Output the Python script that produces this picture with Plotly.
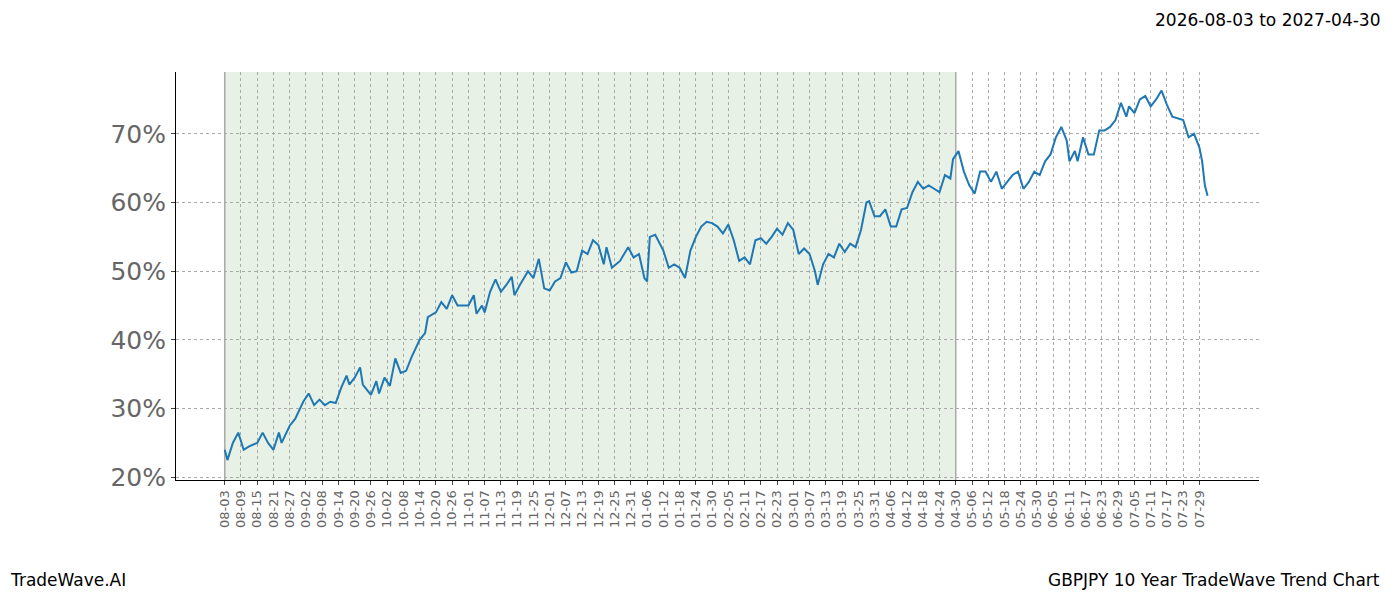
import pandas as pd
import plotly.graph_objects as go

# sampled points (month-day, value %), year rolls from 2026 to 2027 at 01-01
md = ["08-03","08-04","08-06","08-08","08-10","08-12","08-15","08-17","08-19","08-21","08-23","08-24",
      "08-27","08-29","09-01","09-03","09-05","09-07","09-09","09-11","09-13","09-15","09-17","09-18",
      "09-20","09-22","09-23","09-26","09-28","09-29","10-01","10-03","10-05","10-07","10-09","10-11",
      "10-14","10-16","10-17","10-20","10-22","10-24","10-26","10-28","11-01","11-03","11-04","11-06",
      "11-07","11-09","11-11","11-13","11-15","11-17","11-18","11-20","11-23","11-25","11-27","11-29",
      "12-01","12-03","12-05","12-07","12-09","12-11","12-13","12-15","12-17","12-19","12-21","12-22",
      "12-24","12-27","12-30","01-01","01-03","01-05","01-06","01-07","01-09","01-12","01-14","01-16",
      "01-18","01-20","01-22","01-24","01-26","01-28","01-30","02-01","02-03","02-05","02-07","02-09",
      "02-11","02-13","02-15","02-17","02-19","02-21","02-23","02-25","02-27","03-01","03-03","03-05",
      "03-07","03-09","03-10","03-12","03-14","03-16","03-18","03-20","03-22","03-24","03-26","03-28",
      "03-29","03-31","04-02","04-04","04-06","04-08","04-10","04-12","04-14","04-16","04-18","04-20",
      "04-22","04-24","04-26","04-28","04-29","05-01","05-03","05-05","05-07","05-09","05-11","05-13",
      "05-15","05-17","05-19","05-21","05-23","05-25","05-27","05-29","05-31","06-02","06-04","06-06",
      "06-08","06-10","06-11","06-13","06-14","06-16","06-18","06-20","06-22","06-24","06-26","06-28",
      "06-30","07-02","07-03","07-05","07-07","07-09","07-11","07-13","07-15","07-17","07-19","07-21",
      "07-23","07-25","07-27","07-29","07-30","07-31","08-01"]
values = [24,22.5,25,26.5,24,24.5,25,26.5,25,24,26.5,25,
          27.5,28.5,31,32.2,30.5,31.3,30.5,31,30.8,33,34.8,33.5,
          34.5,36,33.5,32,34,32.2,34.5,33.3,37.3,35.2,35.5,37.5,
          40,41,43.3,44,45.5,44.5,46.5,45,45,46.5,43.8,45,
          44,47,48.8,47,48,49.2,46.5,48,50,49,51.8,47.5,
          47.2,48.5,49,51.3,49.8,50,53,52.5,54.5,53.8,51,53.5,
          50.5,51.5,53.5,52,52.5,49,48.5,55,55.3,53,50.5,51,
          50.5,49,53,55,56.5,57.2,57,56.5,55.5,56.8,54.5,51.5,
          52,51,54.5,54.8,54,55,56.2,55.3,57,56,52.5,53.3,
          52.5,50,48,51,52.5,52,54,52.8,54,53.5,56,60,
          60.2,58,58,59,56.5,56.5,59,59.2,61.5,63,62,62.5,
          62,61.5,64,63.5,66.3,67.5,64.5,62.5,61.3,64.5,64.5,63,
          64.5,62,63,64,64.5,62,63,64.5,64,66,67,69.5,
          71,69,66,67.5,66,69.5,67,67,70.5,70.5,71,72,
          74.5,72.5,74,73,75,75.5,74,75,76.3,74.2,72.5,72.2,
          72,69.5,70,68,66,62.5,61]

dates = []
year = 2026
prev = 0
for s in md:
    m = int(s[:2])
    if m < prev:
        year += 1
    prev = m
    dates.append(pd.Timestamp(f"{year}-{s}"))

start = pd.Timestamp("2026-08-03")
shade_end = pd.Timestamp("2027-04-30")
ticks = pd.date_range(start, "2027-07-29", freq="6D")
ytick = [20, 30, 40, 50, 60, 70]

fig = go.Figure()
fig.add_vrect(x0=start, x1=shade_end, fillcolor="rgba(120,180,110,0.18)",
              line_width=0, layer="below")
for d in [start, shade_end]:
    fig.add_vline(x=d, line=dict(color="rgba(150,150,150,0.8)", width=1.5), layer="below")
fig.add_trace(go.Scatter(x=dates, y=values, mode="lines",
                         line=dict(color="#1f77b4", width=2), showlegend=False))

fig.update_layout(
    plot_bgcolor="white", paper_bgcolor="white",
    margin=dict(l=168, r=133, t=64, b=112),
    font=dict(family="DejaVu Sans"),
    annotations=[
        dict(text="2026-08-03 to 2027-04-30", xref="paper", yref="paper", x=1.114, y=1.158,
             xanchor="right", yanchor="top", showarrow=False, font=dict(size=17, color="black")),
        dict(text="TradeWave.AI", xref="paper", yref="paper", x=-0.155, y=-0.215,
             xanchor="left", yanchor="top", showarrow=False, font=dict(size=17, color="black")),
        dict(text="GBPJPY 10 Year TradeWave Trend Chart", xref="paper", yref="paper", x=1.114, y=-0.215,
             xanchor="right", yanchor="top", showarrow=False, font=dict(size=17, color="black")),
    ],
)
fig.update_xaxes(range=[start - pd.Timedelta(days=18), start + pd.Timedelta(days=382)],
                 tickvals=ticks, ticktext=[t.strftime("%m-%d") for t in ticks], tickangle=-90,
                 tickfont=dict(size=13, color="#666"), showgrid=True, gridcolor="#aaa",
                 griddash="dot", gridwidth=0.6, showline=True, linecolor="black",
                 ticks="outside", ticklen=4, zeroline=False)
fig.update_yaxes(range=[19.6, 79], tickvals=ytick, ticktext=[f"{v}%" for v in ytick],
                 tickfont=dict(size=25, color="#666"), showgrid=True, gridcolor="#aaa",
                 griddash="dot", gridwidth=0.6, showline=True, linecolor="black",
                 ticks="outside", ticklen=4, zeroline=False)
fig.write_html("out.html")
